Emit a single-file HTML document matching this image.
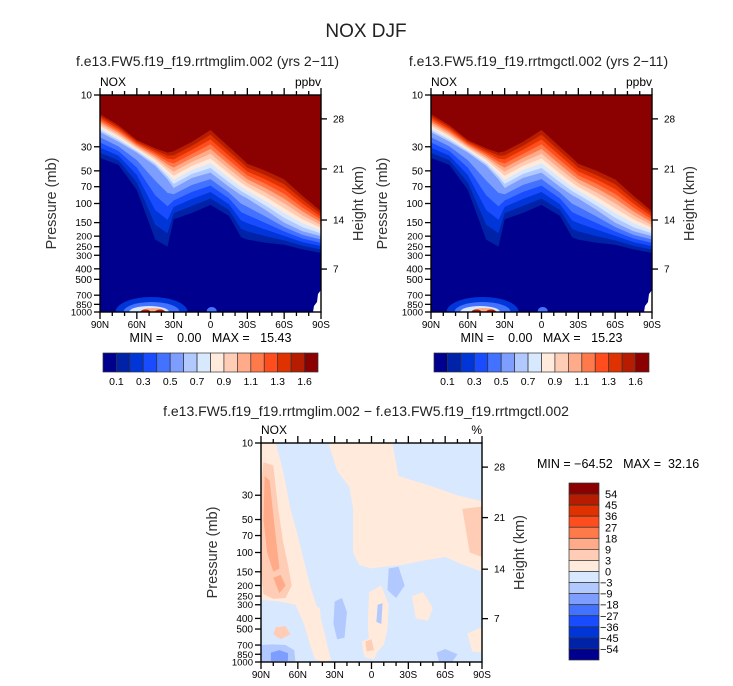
<!DOCTYPE html>
<html><head><meta charset="utf-8"><style>
html,body{margin:0;padding:0;background:#fff;}
svg{display:block;font-family:"Liberation Sans","DejaVu Sans",sans-serif;}
</style></head><body>
<svg id="fig" width="733" height="686" viewBox="0 0 733 686" xmlns="http://www.w3.org/2000/svg">
<text x="366" y="37" font-size="19" text-anchor="middle" fill="#222">NOX DJF</text>
<g id="panels"></g>
</svg>
<script>
// ---------- data ----------
const pLevels = [10,30,50,70,100,150,200,250,300,400,500,700,850,1000];
const latTicks = [90,60,30,0,-30,-60,-90];
const latTickLabels = ["90N","60N","30N","0","30S","60S","90S"];
const heightTicks = [28,21,14,7];
const heightTickP = [16.6,48,142,402];
const absPalette = ["#00008e","#0022a6","#0036d8","#1a4cff","#4272ff","#7e9eff","#b1c9ff","#d8e8ff","#ffeadc","#ffcdb5","#ffaa88","#ff7a4a","#ff4d1e","#e03200","#b61d00","#8b0000"];
const absLabels = ["0.1","0.3","0.5","0.7","0.9","1.1","1.3","1.6"];
const diffLabels = ["54","45","36","27","18","9","3","0","-3","-9","-18","-27","-36","-45","-54"];
// absolute NOx: latitudes and contour-surface pressures
const lats = [90,75,60,45,35,30,15,0,-15,-25,-30,-45,-60,-75,-90];
const topP = [15,19,26,31,34,33,27,21,30,38,43,50,60,85,118];   // 1.6 ppbv contour
const midP = [22,27,34,45,60,72,58,52,70,84,90,115,150,180,200]; // ~0.5 ppbv contour
const botP = [38,44,75,215,250,140,122,103,130,205,215,230,240,265,285]; // 0.1 ppbv contour
const leftMax = "15.43", rightMax = "15.23";
// diff panel regions: [lat,p] vertex lists and colour level index
const diffRegions = [
 {lvl:8, pts:[[90,10],[78,10],[72,18],[66,40],[60,70],[55,120],[50,200],[45,300],[40,450],[36,700],[33,950],[38,1000],[46,950],[50,700],[55,450],[62,300],[75,280],[90,270]]},
 {lvl:8, pts:[[35,10],[-17,10],[-22,20],[-45,24],[-70,30],[-90,34],[-90,150],[-75,130],[-60,110],[-40,120],[-25,130],[-10,135],[0,140],[10,130],[15,100],[15,40],[18,25],[28,18]]},
 {lvl:8, pts:[[2,230],[-8,200],[-14,300],[-13,500],[-10,700],[-5,800],[2,700],[3,450]]},
 {lvl:8, pts:[[-33,250],[-42,230],[-50,320],[-46,420],[-36,400]]},
 {lvl:8, pts:[[-78,550],[-90,480],[-90,820],[-82,800]]},
 {lvl:8, pts:[[50,300],[42,320],[40,600],[43,900],[48,700]]},
 {lvl:8, pts:[[8,650],[0,600],[-6,750],[-2,950],[6,900]]},
 {lvl:9, pts:[[88,15],[80,16],[76,40],[72,80],[68,130],[65,200],[70,260],[80,265],[88,240],[90,150],[90,25]]},
 {lvl:10,pts:[[87,20],[83,22],[80,45],[77,90],[75,140],[80,150],[85,100],[88,50]]},
 {lvl:9, pts:[[-74,40],[-90,38],[-90,110],[-80,100]]},
 {lvl:9, pts:[[78,480],[70,470],[66,560],[74,620],[80,560]]},
 {lvl:9, pts:[[5,650],[0,620],[-2,780],[4,800]]},
 {lvl:10,pts:[[80,170],[74,160],[70,200],[75,235]]},
 {lvl:6, pts:[[30,280],[24,260],[20,350],[22,600],[28,620],[31,450]]},
 {lvl:6, pts:[[-14,140],[-22,135],[-27,200],[-20,260],[-13,220]]},
 {lvl:6, pts:[[90,700],[80,690],[70,700],[63,780],[62,980],[90,990]]},
 {lvl:5, pts:[[82,820],[75,780],[68,830],[68,980],[82,980]]},
 {lvl:6, pts:[[-53,820],[-60,760],[-70,850],[-66,990],[-55,990]]},
 {lvl:6, pts:[[-5,300],[-9,290],[-8,450],[-4,430]]}
];
const diffMin = "-64.52", diffMax = "32.16";

// ---------- drawing ----------
const NS = "http://www.w3.org/2000/svg";
const root = document.getElementById("panels");
function mk(tag, attrs, parent, txt){
  const e = document.createElementNS(NS, tag);
  for (const k in attrs) e.setAttribute(k, attrs[k]);
  if (txt !== undefined) e.textContent = txt;
  (parent||root).appendChild(e);
  return e;
}
function axes(x0,y0,w,h){
  return {X: lat => x0 + (90-lat)/180*w, Y: p => y0 + (Math.log10(p)-1)/2*h};
}
function frame(g, x0,y0,w,h, A, leftLab, rightLab){
  for (let l=90; l>=-90; l-=10){
    const major = (l%30===0);
    const x = A.X(l), len = major?7:4;
    const t1 = mk("line",{x1:x,y1:y0,x2:x,y2:y0-len,stroke:"#000","stroke-width":1.3},g);
    
    
    const t2 = mk("line",{x1:x,y1:y0+h,x2:x,y2:y0+h+len,stroke:"#000","stroke-width":1.3},g);
    
    
  }
  latTicks.forEach((l,i)=>{
    const t = mk("text",{x:A.X(l),y:y0+h+16,"font-size":10,"text-anchor":"middle",fill:"#000"},g,latTickLabels[i]);
    
    
  });
  pLevels.forEach(p=>{
    const y = A.Y(p);
    const tk = mk("line",{x1:x0-6,y1:y,x2:x0,y2:y,stroke:"#000","stroke-width":1.3},g);
    
    
    const t = mk("text",{x:x0-8,y:y+3.5,"font-size":(p>=200&&p!=400&&p!=500?9.5:10),"text-anchor":"end",fill:"#000"},g,String(p));
    
    
  });
  heightTicks.forEach((hk,i)=>{
    const y = A.Y(heightTickP[i]);
    const tk = mk("line",{x1:x0+w,y1:y,x2:x0+w+6,y2:y,stroke:"#000","stroke-width":1.3},g);
    
    
    const t = mk("text",{x:x0+w+12,y:y+3.5,"font-size":10,fill:"#000"},g,String(hk));
    
    
  });
  const b = mk("rect",{x:x0,y:y0,width:w,height:h,fill:"none",stroke:"#000","stroke-width":1.4},g);
  
  
  const yl = mk("text",{transform:`translate(${x0-44},${y0+h/2}) rotate(-90)`,"font-size":14.5,"text-anchor":"middle",fill:"#333"},g,"Pressure (mb)");
  
  
  const yr = mk("text",{transform:`translate(${x0+w+42},${y0+h/2}) rotate(-90)`,"font-size":14.5,"text-anchor":"middle",fill:"#333"},g,"Height (km)");
  
  
  const ll = mk("text",{x:x0,y:y0-9,"font-size":12,fill:"#000"},g,leftLab);
  
  
  const rl = mk("text",{x:x0+w,y:y0-9,"font-size":12,"text-anchor":"end",fill:"#000"},g,rightLab);
  
  
}
function absPanel(id, x0, maxTxt, subtitle){
  const y0=95,w=221,h=217;
  const A = axes(x0,y0,w,h);
  const g = mk("g",{});
  
  
  const st = mk("text",{x:x0+w/2-3,y:66,"font-size":14,"text-anchor":"middle",fill:"#222"},g,subtitle);
  
  
  const cp = mk("clipPath",{id:id+"-clip"},g);
  mk("rect",{x:x0,y:y0,width:w,height:h},cp);
  const fg = mk("g",{"clip-path":`url(#${id}-clip)`},g);
  const bg = mk("rect",{x:x0,y:y0,width:w,height:h,fill:absPalette[0]},fg);
  
  
  function surf(k, i){
    const lt=Math.log10(topP[i]), lm=Math.log10(midP[i]), lb=Math.log10(botP[i]);
    let v;
    if (k>=6) v = lm + (lt-lm)*(k-6)/9;
    else v = lb + (lm-lb)*(k-1)/5;
    return Math.pow(10,v);
  }
  for (let k=1;k<=15;k++){
    let d = `M${A.X(lats[0])-2},${y0}`;
    lats.forEach((l,i)=>{ d += ` L${A.X(l)},${A.Y(surf(k,i))}`; });
    d += ` L${A.X(-90)+2},${A.Y(surf(k,lats.length-1))} L${A.X(-90)+2},${y0} Z`;
    const band = mk("path",{d:d,fill:absPalette[k],"stroke-linejoin":"round"},fg);
    
    
  }
  // surface emission blobs (flat)
  [[48,36,15,2],[48,28,10,4],[50,20,6,7],[47,12,4,10],[53,5,2.5,14],[41,5,2.5,14]].forEach(([lat,rx,ry,c])=>{
    const e = mk("ellipse",{cx:A.X(lat),cy:A.Y(1000),rx:rx,ry:ry,fill:absPalette[c]},fg);
    
    
  });
  const e2 = mk("ellipse",{cx:A.X(-1),cy:A.Y(980),rx:5,ry:4,fill:absPalette[4]},fg);
  
  
  const topo = mk("path",{d:`M${x0+w-8},${y0+h} L${x0+w-7},${y0+h-6} L${x0+w-4},${y0+h-10} L${x0+w-3},${y0+h-18} L${x0+w},${y0+h-22} L${x0+w},${y0+h} Z`,fill:"#fff"},fg);
  
  
  frame(g,x0,y0,w,h,A,"NOX","ppbv");
  const mm = mk("text",{x:x0+w/2,y:y0+h+30,"font-size":12.5,"text-anchor":"middle",fill:"#000"},g,`MIN =    0.00   MAX =   ${maxTxt}`);
  mm.style.whiteSpace="pre";
  
  
  const cx0=x0+3, cw=215/16, cy=353, ch=19;
  absPalette.forEach((c,i)=>{
    const r = mk("rect",{x:cx0+i*cw,y:cy,width:cw,height:ch,fill:c,stroke:"#333","stroke-width":0.7},g);
    
    
  });
  absLabels.forEach((s,i)=>{
    const t = mk("text",{x:cx0+(2*i+1)*cw,y:cy+ch+13,"font-size":10.5,"text-anchor":"middle",fill:"#000"},g,s);
    
    
  });
}
absPanel("panel-rrtmglim",100,leftMax,"f.e13.FW5.f19_f19.rrtmglim.002 (yrs 2\u221211)");
absPanel("panel-rrtmgctl",431,rightMax,"f.e13.FW5.f19_f19.rrtmgctl.002 (yrs 2\u221211)");

// difference panel
(function(){
  const x0=261,y0=443,w=221,h=219;
  const A = axes(x0,y0,w,h);
  const g = mk("g",{});
  
  
  const st = mk("text",{x:366,y:416,"font-size":14,"text-anchor":"middle",fill:"#222"},g,"f.e13.FW5.f19_f19.rrtmglim.002 \u2212 f.e13.FW5.f19_f19.rrtmgctl.002");
  
  
  const cp = mk("clipPath",{id:"diff-clip"},g);
  mk("rect",{x:x0,y:y0,width:w,height:h},cp);
  const fg = mk("g",{"clip-path":"url(#diff-clip)"},g);
  const bg = mk("rect",{x:x0,y:y0,width:w,height:h,fill:absPalette[7]},fg);
  
  
  diffRegions.forEach(r=>{
    const pts = r.pts.map(([l,p])=>`${A.X(l)},${A.Y(p)}`).join(" ");
    const pg = mk("polygon",{points:pts,fill:absPalette[r.lvl],"stroke-linejoin":"round"},fg);
    
    
  });
  frame(g,x0,y0,w,h,A,"NOX","%");
  const mm = mk("text",{x:537,y:468,"font-size":12.5,"text-anchor":"start",fill:"#000"},g,`MIN = \u2212${diffMin.slice(1)}   MAX =  ${diffMax}`);
  mm.style.whiteSpace="pre";
  
  
  const cx=569, cy0=483, cw=30, chh=177/16;
  absPalette.slice().reverse().forEach((c,i)=>{
    const r = mk("rect",{x:cx,y:cy0+i*chh,width:cw,height:chh,fill:c,stroke:"#333","stroke-width":0.7},g);
    
    
  });
  diffLabels.forEach((s,i)=>{
    const t = mk("text",{x:(s[0]=="-"?600:605),y:cy0+(i+1)*chh+4,"font-size":11,fill:"#000"},g,s.replace("-","\u2212"));
    
    
  });
})();
</script>
</body></html>
